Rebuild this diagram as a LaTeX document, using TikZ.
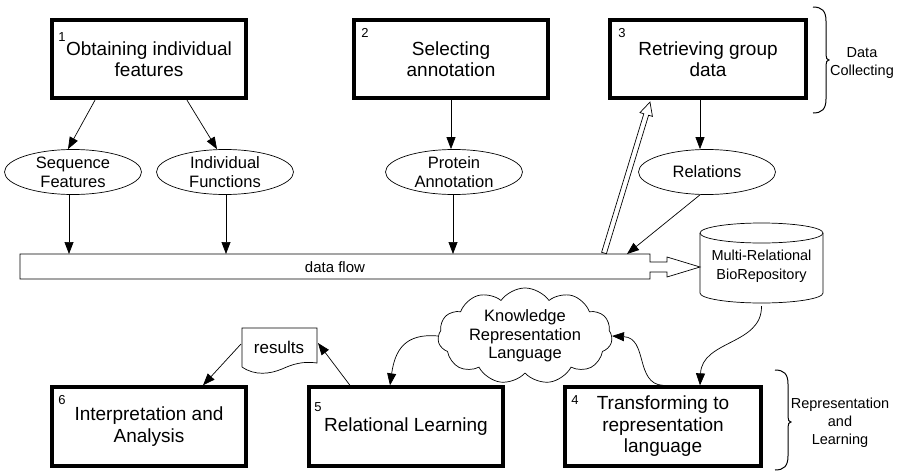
\documentclass[tikz,border=0pt]{standalone}
\usepackage{fontspec}
\setmainfont{Liberation Sans}
\usetikzlibrary{shapes.geometric,shapes.symbols,arrows.meta,calc}
\begin{document}
\begin{tikzpicture}[x=1pt,y=-1pt,
 box/.style={draw, line width=3.8pt, minimum width=194.5pt, minimum height=78.5pt, align=center,
   font=\fontsize{19}{21.5}\selectfont, inner sep=0pt},
 ell/.style={ellipse, draw, line width=0.7pt, minimum width=137pt, minimum height=45pt, align=center,
   inner sep=0pt, font=\fontsize{16.5}{19}\selectfont},
 num/.style={font=\fontsize{13}{13}\selectfont, inner sep=0pt},
 side/.style={align=center, font=\fontsize{14.5}{18}\selectfont, inner sep=0pt},
 arr/.style={-{Triangle[length=12pt,width=9pt]}, line width=0.7pt},
 ln/.style={line width=0.7pt},
 brc/.style={line width=1pt}
]
\useasboundingbox (0,0) rectangle (900,474);

% process boxes
\node[box] (b1) at (149,59) {Obtaining individual\\features};
\node[box] (b2) at (451,59) {Selecting\\annotation};
\node[box, minimum width=196.5pt] (b3) at (708,59) {Retrieving group\\data};
\node[box, minimum width=196.5pt] (b4) at (663,426.5) {Transforming to\\representation\\language};
\node[box] (b5) at (406,426.5) {Relational Learning};
\node[box] (b6) at (149,426.5) {Interpretation and\\Analysis};

\node[num] (n1) at (62,37) {1};
\node[num] (n2) at (365,33) {2};
\node[num] (n3) at (622,33) {3};
\node[num] (n4) at (575,400) {4};
\node[num] (n5) at (318,407) {5};
\node[num] (n6) at (62,400) {6};

% ellipses
\node[ell] (seq) at (73,172) {Sequence\\Features};
\node[ell] (ind) at (225,172) {Individual\\Functions};
\node[ell] (prot) at (454,172) {Protein\\Annotation};
\node[ell] (rel) at (707,172) {Relations};

% data flow band
\draw[ln, fill=white] (20,254) -- (650,254) -- (650,262) -- (667,262) -- (667,257) -- (700,267)
  -- (667,277) -- (667,272) -- (650,272) -- (650,279) -- (20,279) -- cycle;
\node[font=\fontsize{15}{15}\selectfont, inner sep=0pt] (df) at (335,267) {data flow};
\coordinate (d1) at (69,254);
\coordinate (d2) at (226,254);
\coordinate (d3) at (453,254);
\coordinate (d4) at (627,254);
\coordinate (ha) at (604,253);

% repository cylinder
\node[minimum width=123pt, minimum height=80pt, align=center, inner sep=0pt,
  font=\fontsize{14.5}{18.5}\selectfont] (repo) at (761.5,266) {Multi-Relational\\BioRepository};
\draw[ln] (700,233) -- (700,293) arc[start angle=180, end angle=0, x radius=61.5, y radius=10] -- (823,233);
\draw[ln] (761.5,233) ellipse [x radius=61.5, y radius=10];

% cloud
\node[cloud, draw, ln, cloud puffs=11, cloud puff arc=110, aspect=2.3, minimum width=168pt,
  minimum height=74pt, inner sep=0pt, align=center, font=\fontsize{16.5}{18.5}\selectfont]
  (klr) at (525,336) {Knowledge\\Representation\\Language};

% results document
\node[font=\fontsize{17}{17}\selectfont, inner sep=0pt] (res) at (279,347) {results};
\draw[ln] (242,367) -- (242,328) -- (317,328) -- (317,363)
  .. controls (303,361) and (293,364) .. (282,369)
  .. controls (270,374) and (255,376) .. (242,367);
\coordinate (resE) at (318,343);
\coordinate (resW) at (241,344);

% connectors top
\draw[arr] ([xshift=-54pt]b1.south) -- ([xshift=-5pt]seq.north);
\draw[arr] ([xshift=38pt]b1.south) -- ([xshift=-8pt]ind.north);
\draw[arr] (b2.south) -- ([xshift=-3pt]prot.north);
\draw[arr] ([xshift=-8pt]b3.south) -- ([xshift=-7pt]rel.north);

\draw[arr] ([xshift=-4pt]seq.south) -- (d1);
\draw[arr] ([xshift=1pt]ind.south) -- (d2);
\draw[arr] ([xshift=-1pt]prot.south) -- (d3);
\draw[arr] ([xshift=-7pt]rel.south) -- (d4);

% hollow arrow from data flow to box 3
\coordinate (hb) at ([xshift=-58pt, yshift=-1.9pt]b3.south);
\coordinate (hc) at ($(hb)!13pt!(ha)$);
\draw[ln, fill=white] ($(ha)!2.5pt!90:(hb)$) -- ($(hc)!2.5pt!-90:(ha)$) -- ($(hc)!6.5pt!-90:(ha)$)
  -- (hb) -- ($(hc)!6.5pt!90:(ha)$) -- ($(hc)!2.5pt!90:(ha)$) -- ($(ha)!2.5pt!-90:(hb)$) -- cycle;

% lower connectors
\draw[arr] (repo.south) .. controls (762,345) and (702,340) .. ([xshift=37pt]b4.north);
\draw[arr] (b4.north) .. controls (635,384) and (648,338) .. (klr.east);
\draw[arr] (klr.west) .. controls (405,333) and (395,350) .. ([xshift=-16pt]b5.north);
\draw[arr] ([xshift=-56pt]b5.north) -- (resE);
\draw[arr] (resW) -- ([xshift=54pt]b6.north);

% brackets and side labels
\draw[brc] (813,7) .. controls (822,7) and (826,11) .. (826,21) -- (826,55)
  .. controls (826,58) and (827,60) .. (829,60) .. controls (827,60) and (826,62) .. (826,65)
  -- (826,99) .. controls (826,109) and (822,113) .. (813,113);
\node[side] (dc) at (862,63) {Data\\Collecting};
\draw[brc] (775,370) .. controls (784,370) and (788,374) .. (788,384) -- (788,417)
  .. controls (788,420) and (789,422) .. (791,422) .. controls (789,422) and (788,424) .. (788,427)
  -- (788,456) .. controls (788,466) and (784,470) .. (775,470);
\node[side] (rl) at (840,423) {Representation\\and\\Learning};
\end{tikzpicture}
\end{document}
